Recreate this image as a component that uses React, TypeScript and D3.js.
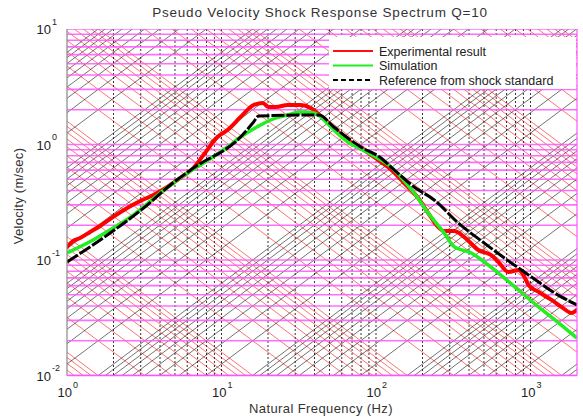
import React from 'react';
import * as d3 from 'd3';

// Experimental result (red)
const expFreq = [1, 1.094, 1.214, 1.411, 1.638, 1.989, 2.452, 2.98, 3.618, 4.461, 5.418, 6.579, 7.64, 9.42, 10.94, 13.29, 16.14, 18.46, 20.2, 22.42, 26.83, 32.58, 37.84, 43.95, 53.39, 65.79, 83.56, 107.8, 119.7, 152, 187.4, 217.7, 252.7, 276.4, 321, 372.8, 459.6, 558.3, 619.8, 719.7, 835.9, 900.6, 970.5, 1127, 1369, 1590, 1846, 2000];
const expVel = [0.13, 0.146, 0.155, 0.175, 0.197, 0.236, 0.282, 0.324, 0.365, 0.429, 0.513, 0.626, 0.811, 1.161, 1.335, 1.73, 2.198, 2.286, 2.113, 2.113, 2.198, 2.198, 2.07, 1.766, 1.39, 1.094, 0.896, 0.705, 0.638, 0.464, 0.344, 0.255, 0.193, 0.178, 0.178, 0.158, 0.122, 0.11, 0.0961, 0.0787, 0.0819, 0.0741, 0.0608, 0.0529, 0.0451, 0.0392, 0.0348, 0.037];

// Simulation (green)
const simFreq = [1, 1.475, 1.989, 2.683, 4.018, 6.016, 7.305, 10.94, 13.29, 17.92, 20.8, 26.83, 32.58, 39.57, 43.95, 53.39, 65.79, 79.9, 107.8, 125.2, 176.5, 227.5, 276.4, 321, 414, 502.7, 619.8, 835.9, 1127, 1520, 2000];
const simVel = [0.115, 0.149, 0.189, 0.245, 0.38, 0.566, 0.665, 0.951, 1.161, 1.475, 1.63, 1.8, 1.91, 1.876, 1.73, 1.335, 1.051, 0.914, 0.735, 0.638, 0.38, 0.236, 0.171, 0.13, 0.115, 0.0961, 0.0771, 0.055, 0.0392, 0.0285, 0.0211];

// Reference from shock standard (black dashed)
const refFreq = [1, 1.902, 3.307, 4.666, 6.579, 13.29, 16.14, 17.39, 42.65, 53.39, 65.79, 79.9, 107.8, 125.2, 176.5, 238, 340.8, 502.7, 678, 1015, 1431, 2000];
const refVel = [0.0961, 0.171, 0.299, 0.446, 0.626, 1.161, 1.566, 1.766, 1.8, 1.417, 1.138, 0.951, 0.764, 0.638, 0.429, 0.331, 0.209, 0.14, 0.104, 0.0713, 0.0518, 0.0408];

const xTickExps = [0, 1, 2, 3];
const yTickExps = [-2, -1, 0, 1];
const minorMultipliers = [1, 2, 3, 4, 5, 6, 7, 8, 9];
const dispDecades = [-7, -6, -5, -4, -3, -2, -1, 0]; // displacement (m)
const accelDecades = [-2, -1, 0, 1, 2, 3, 4, 5]; // acceleration (m/s^2)

const legendItems = [
  { label: 'Experimental result', color: '#ff1010', dash: '' },
  { label: 'Simulation', color: '#22ee22', dash: '' },
  { label: 'Reference from shock standard', color: '#000000', dash: '5,3' },
];

const FONT = "'Liberation Sans', Arial, sans-serif";

export default function App() {
  const L = 67, R = 577, T = 29, B = 375.5;
  const fMin = 1, fMax = 2000;
  const x = d3.scaleLog().domain([fMin, fMax]).range([L, R]);
  const y = d3.scaleLog().domain([0.01, 10]).range([B, T]);

  const line = d3
    .line<[number, number]>()
    .x((d) => x(d[0]))
    .y((d) => y(d[1]))
    .curve(d3.curveMonotoneX);

  const expPts = expFreq.map((f, i) => [f, expVel[i]] as [number, number]);
  const simPts = simFreq.map((f, i) => [f, simVel[i]] as [number, number]);
  const refPts = refFreq.map((f, i) => [f, refVel[i]] as [number, number]);

  const twoPi = 2 * Math.PI;
  const dispLines: string[] = [];
  dispDecades.forEach((n) =>
    minorMultipliers.forEach((k) => {
      const D = k * Math.pow(10, n);
      dispLines.push(`M${x(fMin)},${y(twoPi * fMin * D)}L${x(fMax)},${y(twoPi * fMax * D)}`);
    })
  );
  const accLines: string[] = [];
  accelDecades.forEach((n) =>
    minorMultipliers.forEach((k) => {
      const A = k * Math.pow(10, n);
      accLines.push(`M${x(fMin)},${y(A / (twoPi * fMin))}L${x(fMax)},${y(A / (twoPi * fMax))}`);
    })
  );

  const vFreqs: number[] = [];
  xTickExps.forEach((e) =>
    minorMultipliers.forEach((k) => {
      const f = k * Math.pow(10, e);
      if (f > fMin && f < fMax) vFreqs.push(f);
    })
  );
  const hVels: number[] = [];
  [-2, -1, 0].forEach((e) =>
    minorMultipliers.forEach((k) => hVels.push(k * Math.pow(10, e)))
  );
  hVels.push(10);

  return (
    <svg
      width={583}
      height={418}
      style={{ position: 'absolute', left: 0, top: 0, background: '#fff' }}
      fontFamily={FONT}
    >
      <defs>
        <clipPath id="plotClip">
          <rect x={L} y={T} width={R - L} height={B - T} />
        </clipPath>
      </defs>
      <rect x={0} y={0} width={583} height={418} fill="#fff" />
      <g clipPath="url(#plotClip)">
        {accLines.map((d, i) => (
          <path key={'a' + i} d={d} stroke="#ff3030" strokeOpacity={0.75} strokeWidth={0.9} fill="none" />
        ))}
        {dispLines.map((d, i) => (
          <path key={'d' + i} d={d} stroke="#202020" strokeOpacity={0.7} strokeWidth={0.9} fill="none" />
        ))}
        {vFreqs.map((f, i) => (
          <line key={'v' + i} x1={x(f)} x2={x(f)} y1={T} y2={B} stroke="#000" strokeWidth={0.8} strokeDasharray="2,2" />
        ))}
        {hVels.map((v, i) => (
          <line key={'h' + i} x1={L} x2={R} y1={y(v)} y2={y(v)} stroke="#ff55ff" strokeWidth={1.6} strokeOpacity={0.85} />
        ))}
        <path d={line(expPts) || ''} stroke="#ff0000" strokeWidth={4} fill="none" strokeLinejoin="round" strokeLinecap="round" />
        <path d={line(simPts) || ''} stroke="#22ee22" strokeWidth={3.5} fill="none" strokeLinejoin="round" />
        <path d={line(refPts) || ''} stroke="#000" strokeWidth={3} fill="none" strokeDasharray="13,2" />
      </g>
      {/* borders */}
      <line x1={L} x2={L} y1={T} y2={B} stroke="#888" strokeWidth={1.2} />
      <line x1={R} x2={R} y1={T} y2={B} stroke="#ff55ff" strokeWidth={1.2} />
      <line x1={L} x2={R} y1={B} y2={B} stroke="#ff55ff" strokeWidth={1.6} />

      {/* legend */}
      <rect x={329} y={37} width={247} height={52} fill="#fff" />
      {legendItems.map((it, i) => {
        const yy = 51 + i * 14.5;
        return (
          <g key={it.label}>
            <line x1={333} x2={373} y1={yy} y2={yy} stroke={it.color} strokeWidth={2} strokeDasharray={it.dash} />
            <text x={379} y={yy + 4.5} fontSize={12.5} fill="#222">
              {it.label}
            </text>
          </g>
        );
      })}

      {/* title */}
      <text x={320} y={17} textAnchor="middle" fontSize={13.5} fill="#333" letterSpacing={0.8}>
        Pseudo Velocity Shock Response Spectrum Q=10
      </text>

      {/* x tick labels */}
      {xTickExps.map((e) => {
        const px = x(Math.pow(10, e));
        return (
          <g key={'xt' + e} fill="#222">
            <text x={px + 5} y={397} textAnchor="end" fontSize={13}>10</text>
            <text x={px + 6} y={387.5} fontSize={9}>{e}</text>
          </g>
        );
      })}
      {/* y tick labels */}
      {yTickExps.map((e) => {
        const py = y(Math.pow(10, e));
        return (
          <g key={'yt' + e} fill="#222">
            <text x={51} y={py + 5} textAnchor="end" fontSize={13}>10</text>
            <text x={52} y={py - 4.5} fontSize={9}>{e}</text>
          </g>
        );
      })}

      {/* axis labels */}
      <text x={321} y={413} textAnchor="middle" fontSize={13} fill="#333" letterSpacing={0.4}>
        Natural Frequency (Hz)
      </text>
      <text
        transform="translate(23,196) rotate(-90)"
        textAnchor="middle"
        fontSize={13}
        fill="#333"
        letterSpacing={0.3}
      >
        Velocity (m/sec)
      </text>
    </svg>
  );
}
